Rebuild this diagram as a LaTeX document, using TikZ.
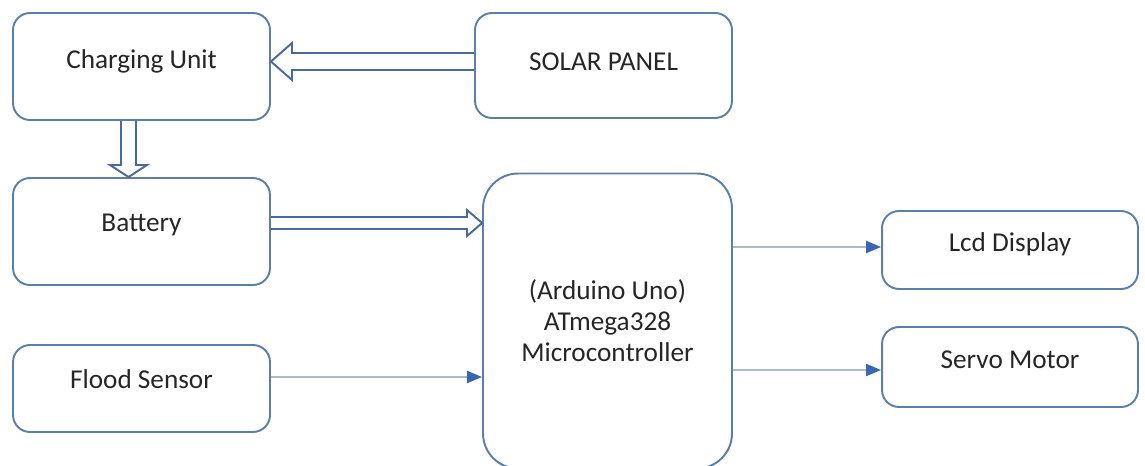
\documentclass[tikz,border=0pt]{standalone}
\usepackage{fontspec}
\setmainfont{Carlito}
\usepackage{tikz}
\usetikzlibrary{arrows.meta}
\definecolor{boxblue}{HTML}{5B7FA6}
\definecolor{pipeblue}{HTML}{4A6A9C}
\definecolor{wiregray}{HTML}{AEB9CC}
\definecolor{tipblue}{HTML}{3A66B0}

\begin{document}
\begin{tikzpicture}[x=0.02cm, y=-0.02cm,
        block/.style={draw=boxblue, line width=1.1pt, rounded corners=0.34cm, inner sep=0pt,
            align=center, text height=0.35cm, text=black!85,
            font=\fontsize{15.5}{17.6}\selectfont},
        pipe/.style={draw=pipeblue, line width=1.1pt, line join=miter},
        wire/.style={draw=wiregray, line width=1.2pt, -{Triangle[color=tipblue, length=0.3cm, width=0.24cm]}}]
        \useasboundingbox (0,0) rectangle (1145,466);

        % Nodes
        \node[block, minimum width=5.14cm, minimum height=2.14cm, text depth=0.26cm] (cu) at (141.5, 66.5) {Charging Unit};
        \node[block, minimum width=5.14cm, minimum height=2.1cm, text depth=0.14cm] (sp) at (603.5, 65.5) {SOLAR PANEL};
        \node[block, minimum width=5.14cm, minimum height=2.14cm, text depth=0.34cm] (bat) at (141.5, 231.5) {Battery};
        \node[block, minimum width=5.14cm, minimum height=1.74cm, text depth=0.34cm] (fs) at (141.5, 388.5) {Flood Sensor};
        \node[block, minimum width=4.98cm, minimum height=5.9cm, rounded corners=0.7cm, text height=, text depth=] (mc) at (607.5, 321)
            {(Arduino Uno)\\ATmega328\\Microcontroller};
        \node[block, minimum width=5.12cm, minimum height=1.56cm, text depth=0.28cm] (lcd) at (1010, 250) {Lcd Display};
        \node[block, minimum width=5.12cm, minimum height=1.6cm, text depth=0.28cm] (sm) at (1010, 367) {Servo Motor};

        % Power paths (hollow arrows)
        \draw[pipe] (sp.west |- 0,53) -- (292,53) -- ++(0,-10) -- (cu.east |- 0,61.5)
            -- (292,80) -- ++(0,-10) -- (sp.west |- 0,70);
        \draw[pipe] (cu.south -| 121,0) -- (121,165) -- ++(-11,0) -- (bat.north -| 128.5,0)
            -- (147,165) -- ++(-11,0) -- (cu.south -| 136,0);
        \draw[pipe] (bat.east |- 0,217) -- (467,217) -- ++(0,-7) -- (mc.west |- 0,223)
            -- (467,236) -- ++(0,-7) -- (bat.east |- 0,229);

        % Signal edges
        \draw[wire] (fs.east |- 0,377) -- (mc.west |- 0,377);
        \draw[wire] (mc.east |- 0,247) -- (lcd.west |- 0,247);
        \draw[wire] (mc.east |- 0,370) -- (sm.west |- 0,370);
    \end{tikzpicture}
\end{document}
